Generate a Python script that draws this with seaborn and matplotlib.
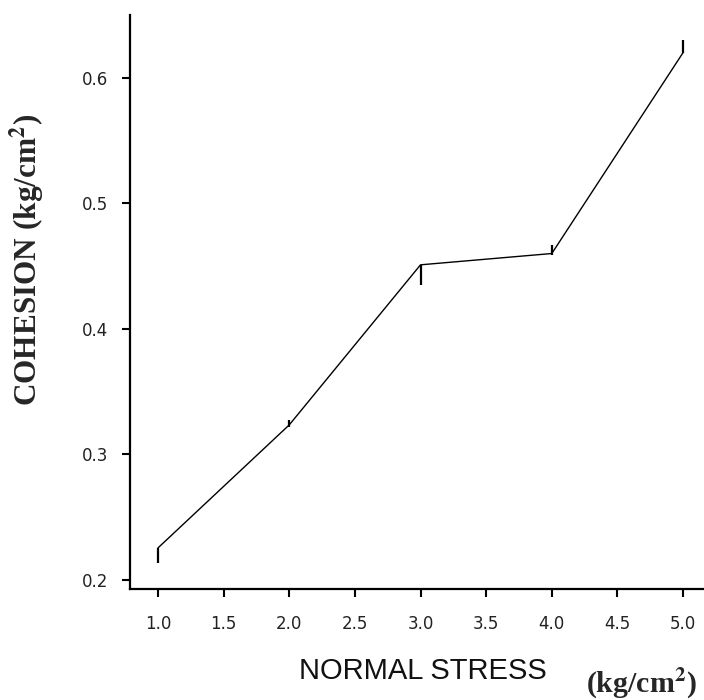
import matplotlib
matplotlib.use("Agg")
import matplotlib.pyplot as plt
import seaborn as sns
import numpy as np
import pandas as pd

normal_stress = [1.0, 2.0, 3.0, 4.0, 5.0]
cohesion = [0.2255, 0.3235, 0.451, 0.460, 0.620]
err_low = [0.012, 0.002, 0.016, 0.001, 0.0]
err_high = [0.0, 0.0035, 0.0, 0.007, 0.010]
x_ticks = [1.0, 1.5, 2.0, 2.5, 3.0, 3.5, 4.0, 4.5, 5.0]
y_ticks = [0.2, 0.3, 0.4, 0.5, 0.6]

sns.set_style("ticks")
plt.rcParams['mathtext.fontset'] = 'stix'

fig = plt.figure(figsize=(7.04, 7.0), dpi=100)
ax = fig.add_axes([0.1847, 0.1586, 0.8139, 0.82])

df = pd.DataFrame({"x": normal_stress, "y": cohesion})
sns.lineplot(data=df, x="x", y="y", ax=ax, color="black", linewidth=1.0)
ax.errorbar(normal_stress, cohesion, yerr=[err_low, err_high], fmt="none",
            ecolor="black", elinewidth=1.6, capsize=0)

ax.set_xlim(0.787, 5.152)
ax.set_ylim(0.1928, 0.650)
ax.set_xticks(x_ticks)
ax.set_yticks(y_ticks)
ax.set_xticklabels([f"{v:.1f}" for v in x_ticks])
ax.set_yticklabels([f"{v:.1f}" for v in y_ticks])
ax.tick_params(axis="both", direction="out", length=5.5, width=1.5, labelsize=12,
               labelcolor="#222222", color="black")
ax.tick_params(axis="x", pad=13)
ax.tick_params(axis="y", pad=10)
for s in ["top", "right"]:
    ax.spines[s].set_visible(False)
for s in ["left", "bottom"]:
    ax.spines[s].set_linewidth(1.6)
    ax.spines[s].set_color("black")

ax.set_xlabel("")
ax.set_ylabel("")
fig.text(0.601, 0.041, "NORMAL STRESS", fontsize=21, family="Liberation Sans",
         ha="center", va="center", color="#111111")
fig.text(0.911, 0.023, r"(kg/cm$^{\mathbf{2}}$)", fontsize=21.5, family="Liberation Serif",
         fontweight="bold", ha="center", va="center")
fig.text(0.038, 0.629, r"COHESION (kg/cm$^{\mathbf{2}}$)", fontsize=22.5, family="Liberation Serif",
         fontweight="bold", rotation=90, ha="center", va="center")

fig.savefig("out.png", dpi=100)
